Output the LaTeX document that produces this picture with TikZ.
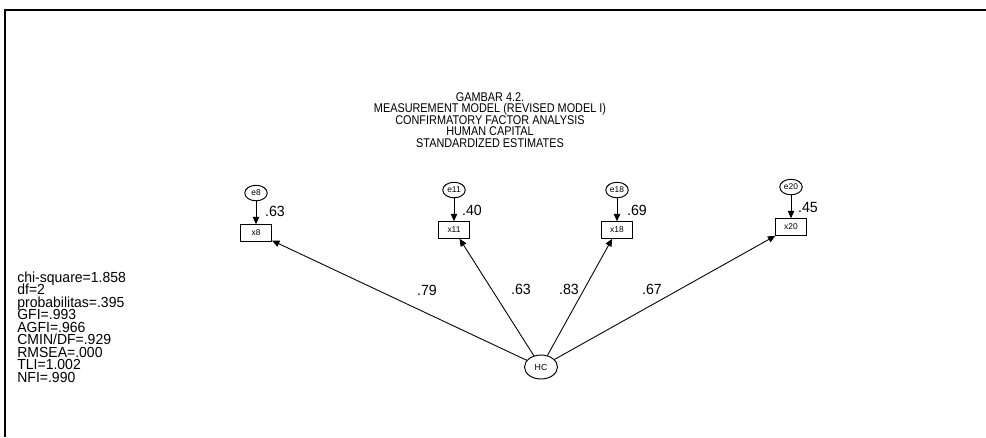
\documentclass[tikz,border=0pt]{standalone}
\usepackage{fontspec}
\setmainfont{Liberation Sans}
\newfontfamily\titlefont[FakeStretch=0.86]{Liberation Sans}
\newfontfamily\fitfont[FakeStretch=0.96]{Liberation Sans}
\newcommand\tightlines{\lineskiplimit-20pt\lineskip0pt\relax}
\usetikzlibrary{arrows.meta,positioning,shapes.geometric}
\tikzset{
  obs/.style={draw, line width=0.55pt, minimum width=6.2mm, minimum height=3.3mm, inner sep=0pt, font=\fontsize{4.8}{5}\selectfont},
  err/.style={draw, ellipse, line width=0.55pt, minimum width=4.5mm, minimum height=3.1mm, inner sep=0pt, font=\fontsize{4.8}{5}\selectfont},
  lat/.style={draw, ellipse, line width=0.55pt, minimum width=6.6mm, minimum height=4.8mm, inner sep=0pt, font=\fontsize{5}{5}\selectfont},
  arr/.style={-{Triangle[length=1.5mm, width=1.3mm]}, line width=0.5pt},
  est/.style={inner sep=0pt, font=\fitfont\fontsize{8.4}{8}\selectfont},
}

\begin{document}
\begin{tikzpicture}[x=0.02cm, y=-0.02cm, node distance=4.6mm]
  \useasboundingbox (0,0) rectangle (986,437);
  % frame
  \coordinate (tr) at (986,10);
  \coordinate (tl) at (5,10);
  \coordinate (bl) at (5,437);
  \draw[line width=1pt] (tr) -- (tl) -- (bl);
  % title and fit indices
  \node[align=center, inner sep=0pt, font=\titlefont\fontsize{7.2}{6.6}\selectfont\tightlines] (title) at (490,120)
    {GAMBAR 4.2.\\MEASUREMENT MODEL (REVISED MODEL I)\\CONFIRMATORY FACTOR ANALYSIS\\HUMAN CAPITAL\\STANDARDIZED ESTIMATES};
  \node[align=left, anchor=west, inner sep=0pt, font=\fitfont\fontsize{8.3}{7.1}\selectfont\tightlines] (fit) at (17,327)
    {chi-square=1.858\\df=2\\probabilitas=.395\\GFI=.993\\AGFI=.966\\CMIN/DF=.929\\RMSEA=.000\\TLI=1.002\\NFI=.990};
  % indicators and errors
  \node[obs] (x8) at (256,233) {x8};
  \node[obs] (x11) at (454,230) {x11};
  \node[obs] (x18) at (617,230) {x18};
  \node[obs] (x20) at (791,227) {x20};
  \node[err, above=of x8] (e8) {e8};
  \node[err, above=of x11] (e11) {e11};
  \node[err, above=of x18] (e18) {e18};
  \node[err, above=of x20] (e20) {e20};
  \node[lat] (hc) at (541,367) {HC};
  \draw[arr] (e8) -- (x8);
  \draw[arr] (e11) -- (x11);
  \draw[arr] (e18) -- (x18);
  \draw[arr] (e20) -- (x20);
  \draw[arr] (hc) -- (x8);
  \draw[arr] (hc) -- (x11);
  \draw[arr] (hc) -- (x18);
  \draw[arr] (hc) -- (x20);
  % estimates
  \node[est] (r8) at (275,211) {.63};
  \node[est] (r11) at (472,210) {.40};
  \node[est] (r18) at (637,210) {.69};
  \node[est] (r20) at (808,207) {.45};
  \node[est] (l8) at (427,290) {.79};
  \node[est] (l11) at (521,289) {.63};
  \node[est] (l18) at (569,289) {.83};
  \node[est] (l20) at (652,289) {.67};
\end{tikzpicture}
\end{document}
